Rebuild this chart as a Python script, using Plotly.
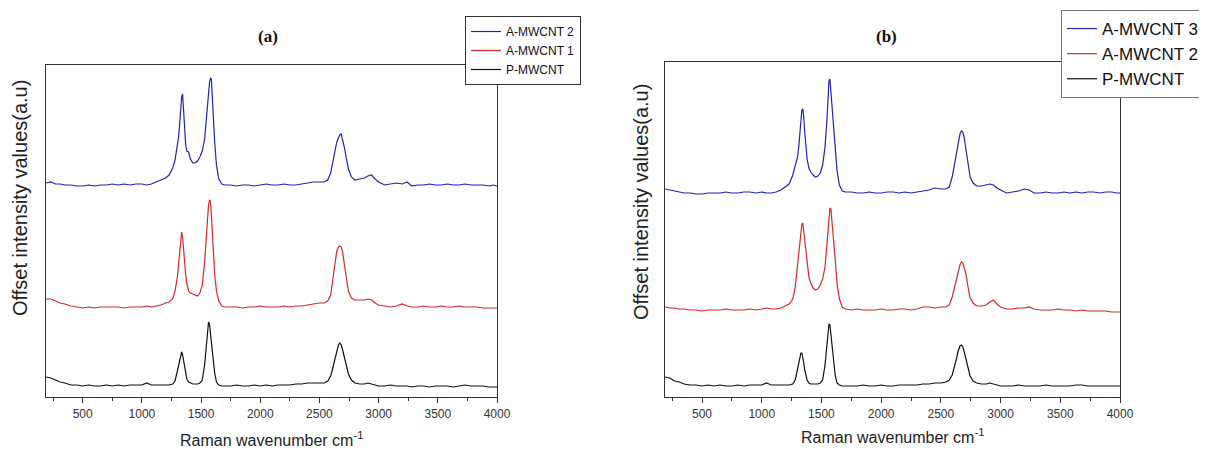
import plotly.graph_objects as go

# Raman shift grid (cm^-1)
wavenumber = [190, 230, 270, 310, 350, 400, 450, 500, 550, 600, 650, 700, 750, 800, 850, 900, 950, 1000, 1040, 1080, 1120, 1160, 1200,
              1230, 1260, 1280, 1300, 1310, 1320, 1328, 1336, 1344, 1352, 1360, 1370, 1380, 1395, 1410, 1430, 1450, 1470, 1490, 1510,
              1530, 1545, 1555, 1563, 1571, 1579, 1587, 1595, 1605, 1615, 1630, 1650, 1675, 1700,
              1750, 1800, 1850, 1900, 1950, 2000, 2050, 2100, 2150, 2200, 2250, 2300, 2350, 2400, 2450, 2500,
              2540, 2570, 2595, 2615, 2630, 2645, 2660, 2672, 2684, 2696, 2710, 2725, 2745, 2770, 2800, 2840,
              2880, 2910, 2940, 2970, 3000, 3050, 3100, 3150, 3200, 3240, 3280, 3330, 3380, 3430, 3480, 3530, 3580, 3630, 3680, 3730,
              3780, 3830, 3880, 3930, 3970, 4000]

# ---- panel (a) offset intensities ----
a_mwcnt2_a = [214, 215, 213, 213, 212, 212, 211, 211, 212, 211, 212, 212, 213, 212, 213, 212, 213, 213, 212, 213, 215, 217, 219,
              222, 229, 237, 250, 260, 274, 290, 300, 303, 290, 268, 252, 246, 245, 238, 234, 234, 236, 240, 246,
              258, 280, 295, 306, 314, 319, 318, 300, 275, 255, 232, 218, 213, 212,
              212, 211, 212, 212, 211, 212, 213, 212, 212, 213, 212, 212, 213, 214, 215, 215,
              215, 217, 224, 236, 246, 254, 259, 262, 263, 258, 250, 240, 228, 220, 217, 218,
              219, 221, 222, 218, 215, 212, 213, 214, 213, 215, 211, 212, 212, 213, 212, 212, 213, 212, 212, 213,
              212, 212, 212, 211, 212, 211]
a_mwcnt1_a = [98, 98, 96, 94, 93, 91, 90, 89, 90, 89, 90, 90, 90, 90, 89, 90, 90, 90, 91, 90, 91, 92, 94,
              95, 98, 106, 120, 132, 150, 160, 165, 160, 146, 134, 122, 113, 106, 104, 103, 102, 101, 104, 112,
              135, 165, 183, 192, 197, 196, 182, 160, 142, 122, 106, 96, 91, 90,
              90, 90, 89, 90, 90, 91, 90, 90, 90, 91, 90, 91, 91, 92, 93, 94,
              94, 96, 102, 118, 134, 145, 150, 151, 150, 145, 133, 119, 106, 99, 97, 97,
              97, 98, 97, 94, 92, 91, 90, 91, 93, 91, 90, 90, 91, 90, 90, 91, 90, 90, 91, 90,
              90, 90, 89, 89, 89, 89]
p_mwcnt_a = [20, 19, 17, 15, 14, 12, 12, 11, 12, 11, 11, 12, 11, 12, 11, 12, 12, 12, 14, 12, 12, 12, 12,
             12, 13, 16, 26, 32, 39, 44, 45, 42, 36, 30, 23, 18, 15, 14, 13, 13, 13, 14, 17,
             32, 55, 68, 75, 73, 64, 52, 42, 33, 24, 15, 12, 11, 11,
             11, 12, 11, 11, 12, 11, 12, 11, 12, 12, 12, 13, 13, 14, 14, 14,
             14, 16, 21, 30, 38, 47, 52, 54, 52, 47, 40, 31, 23, 17, 14, 13,
             13, 14, 13, 12, 11, 11, 12, 11, 11, 11, 10, 11, 11, 10, 11, 11, 11, 10, 11, 12,
             11, 11, 11, 10, 10, 10]

# ---- panel (b) offset intensities ----
a_mwcnt3_b = [208, 207, 206, 205, 204, 204, 203, 203, 204, 204, 204, 205, 204, 204, 205, 205, 204, 205, 204, 204, 205, 207, 210,
              213, 222, 230, 240, 250, 266, 280, 287, 288, 280, 265, 250, 238, 229, 225, 222, 220, 221, 224, 232,
              250, 275, 300, 316, 318, 305, 290, 276, 260, 245, 227, 212, 206, 205,
              205, 204, 204, 205, 204, 204, 205, 205, 204, 205, 204, 205, 206, 207, 209, 208,
              208, 210, 220, 233, 244, 256, 263, 266, 265, 259, 248, 233, 220, 214, 211, 211,
              212, 213, 212, 209, 207, 204, 205, 206, 208, 207, 204, 204, 205, 204, 204, 205, 204, 205, 204, 205,
              205, 204, 205, 205, 204, 204]
a_mwcnt2_b = [90, 89, 89, 88, 88, 87, 87, 86, 87, 87, 87, 88, 87, 87, 87, 88, 87, 88, 89, 88, 88, 89, 91,
              93, 98, 110, 132, 143, 158, 168, 173, 174, 165, 153, 141, 130, 120, 114, 109, 107, 108, 112, 118,
              130, 152, 168, 180, 189, 188, 178, 166, 155, 138, 114, 98, 90, 88,
              87, 88, 87, 87, 87, 88, 87, 87, 88, 88, 87, 88, 90, 90, 89, 90,
              90, 92, 100, 110, 118, 126, 132, 135, 134, 129, 123, 112, 99, 94, 91, 91,
              92, 95, 97, 93, 90, 88, 88, 89, 89, 90, 88, 87, 87, 87, 88, 87, 87, 86, 87, 86,
              86, 86, 86, 85, 85, 85]
p_mwcnt_b = [20, 19, 16, 15, 13, 12, 12, 11, 12, 11, 12, 11, 11, 12, 11, 12, 12, 12, 14, 12, 12, 12, 12,
             12, 13, 17, 28, 35, 41, 44, 44, 40, 34, 27, 21, 17, 14, 13, 13, 13, 13, 14, 17,
             32, 52, 65, 73, 72, 63, 50, 40, 31, 22, 14, 12, 11, 11,
             11, 11, 12, 11, 11, 12, 11, 11, 12, 12, 12, 12, 13, 13, 14, 14,
             15, 17, 22, 30, 38, 46, 51, 52, 50, 45, 38, 29, 21, 16, 14, 13,
             13, 14, 13, 12, 11, 11, 11, 12, 11, 11, 11, 11, 12, 11, 11, 11, 11, 12, 12, 11,
             11, 11, 11, 11, 11, 11]

labels_a = ["A-MWCNT 2", "A-MWCNT 1", "P-MWCNT"]
labels_b = ["A-MWCNT 3", "A-MWCNT 2", "P-MWCNT"]
colors = ["#2222b0", "#d02a2a", "#111111"]

for s in (a_mwcnt2_a, a_mwcnt1_a, p_mwcnt_a, a_mwcnt3_b, a_mwcnt2_b, p_mwcnt_b):
    assert len(s) == len(wavenumber), len(s)

# page body has an 8px margin: figure occupies (8,8)-(1207,450)
OFF = 8
W, H = 1199, 442
def px(x):
    return (x - OFF) / W
def py(y):
    return 1 - (y - OFF) / H

fig = go.Figure()
for name, ys, c in zip(labels_a, [a_mwcnt2_a, a_mwcnt1_a, p_mwcnt_a], colors):
    fig.add_trace(go.Scatter(x=wavenumber, y=ys, mode="lines", name=name,
                             line=dict(color=c, width=1.2), xaxis="x", yaxis="y", legend="legend"))
for name, ys, c in zip(labels_b, [a_mwcnt3_b, a_mwcnt2_b, p_mwcnt_b], colors):
    fig.add_trace(go.Scatter(x=wavenumber, y=ys, mode="lines", name=name,
                             line=dict(color=c, width=1.2), xaxis="x2", yaxis="y2", legend="legend2"))

tickfont = dict(family="Liberation Sans, Arial", size=12, color="#333333")
xcommon = dict(range=[190, 4000], tick0=500, dtick=500, ticks="outside", ticklen=5, tickwidth=1,
               tickcolor="#333333", showline=True, linecolor="#333333", linewidth=1.2, mirror=True,
               showgrid=False, zeroline=False, tickfont=tickfont,
               minor=dict(dtick=250, tick0=250, ticks="outside", ticklen=3, tickcolor="#333333"))
ycommon = dict(showticklabels=False, ticks="", showline=True, linecolor="#333333", linewidth=1.2,
               mirror=True, showgrid=False, zeroline=False)

fig.update_layout(
    width=W, height=H,
    margin=dict(l=0, r=0, t=0, b=0, autoexpand=False),
    paper_bgcolor="white", plot_bgcolor="white",
    xaxis=dict(domain=[px(46), px(497)], anchor="y", **xcommon),
    yaxis=dict(domain=[py(397), py(65)], anchor="x", range=[0, 332], **ycommon),
    xaxis2=dict(domain=[px(665), px(1120)], anchor="y2", **xcommon),
    yaxis2=dict(domain=[py(397), py(62)], anchor="x2", range=[0, 335], **ycommon),
    legend=dict(x=px(465), y=py(16), xanchor="left", yanchor="top",
                font=dict(family="Liberation Sans, Arial", size=12, color="#111111"),
                bordercolor="#333333", borderwidth=1, bgcolor="white", itemwidth=30,
                tracegroupgap=0),
    legend2=dict(x=px(1061), y=py(10), xanchor="left", yanchor="top",
                 font=dict(family="Liberation Sans, Arial", size=17, color="#111111"),
                 bordercolor="#777777", borderwidth=1, bgcolor="white", itemwidth=30,
                 tracegroupgap=0),
    showlegend=True,
)

annos = [
    dict(text="<b>(a)</b>", x=px(268), y=py(37), font=dict(family="Liberation Serif, Times New Roman", size=17, color="#111111")),
    dict(text="<b>(b)</b>", x=px(886), y=py(36), font=dict(family="Liberation Serif, Times New Roman", size=17, color="#111111")),
    dict(text="Raman wavenumber cm<sup>-1</sup>", x=px(271), y=py(439), font=dict(family="Liberation Sans, Arial", size=16, color="#222222")),
    dict(text="Raman wavenumber cm<sup>-1</sup>", x=px(892), y=py(436), font=dict(family="Liberation Sans, Arial", size=16, color="#222222")),
    dict(text="Offset intensity values(a.u)", x=px(20), y=py(198), textangle=-90, font=dict(family="Liberation Sans, Arial", size=20, color="#222222")),
    dict(text="Offset intensity values(a.u)", x=px(641), y=py(202), textangle=-90, font=dict(family="Liberation Sans, Arial", size=20, color="#222222")),
]
for a in annos:
    fig.add_annotation(xref="paper", yref="paper", showarrow=False, xanchor="center", yanchor="middle", **a)

fig.write_html("out.html")
